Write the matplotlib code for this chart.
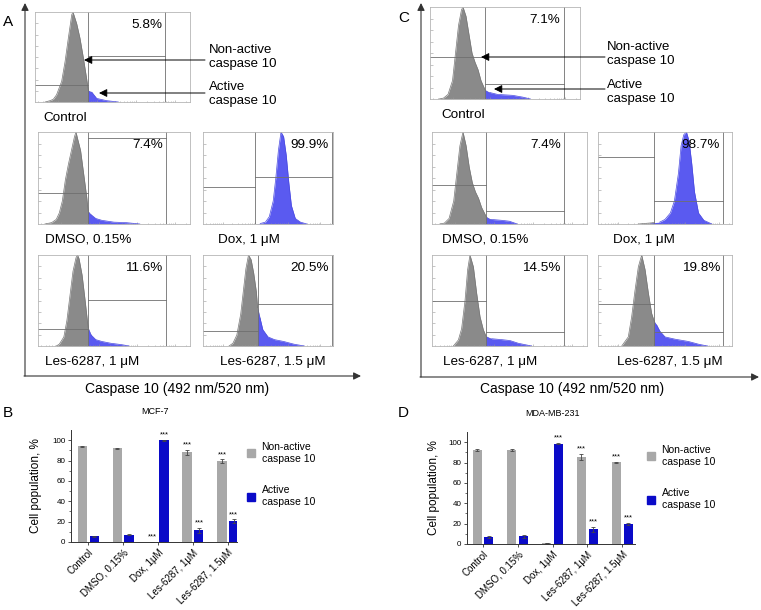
import numpy as np
import matplotlib.pyplot as plt
from matplotlib.patches import Patch

plt.rcParams['font.family'] = ['Liberation Sans', 'DejaVu Sans']

W, H = 761, 610

# ---- flow cytometry histograms (x: channel position 0-100, y: % of peak) ----
a_ctrl_x = [6.5, 9.7, 11.8, 13.9, 17.2, 19.4, 21.5, 23.7, 24.5, 26.9, 29, 31.2, 33.3, 34.4, 36.6, 39.8, 46.2, 53.8]
a_ctrl_y = [0, 1.5, 3, 8, 23, 45, 71, 97, 100, 87, 71, 49, 26, 13, 11, 4, 1.5, 0]
a_dmso_x = [4.5, 9, 12, 14, 16, 18, 20, 22, 24, 25, 26, 28, 30, 32, 33, 35, 38, 42, 50, 58, 67]
a_dmso_y = [0, 1.5, 5, 12, 25, 48, 65, 80, 95, 100, 93, 80, 55, 30, 14, 10, 6, 4, 2, 1.5, 0]
a_dox_x = [40, 44, 48, 51, 54, 56, 58, 60, 62, 64, 66, 68, 71, 75, 80]
a_dox_y = [0, 0.5, 2, 8, 25, 50, 80, 100, 95, 75, 45, 20, 6, 2, 0]
a_les1_x = [12, 14, 17, 19, 21, 23, 25, 26, 27, 29, 31, 33, 35, 38, 42, 48, 55, 60]
a_les1_y = [0, 2, 10, 28, 55, 82, 97, 100, 96, 78, 50, 20, 12, 7, 5, 3, 1.5, 0]
a_les15_x = [20, 23, 26, 29, 31, 33, 35, 37, 39, 41, 42, 44, 46, 50, 55, 62, 70, 78]
a_les15_y = [0, 3, 12, 35, 60, 85, 100, 95, 80, 60, 42, 30, 18, 10, 7, 5, 2, 0]

c_ctrl_x = [6, 9, 12, 15, 17, 19, 21, 22, 24, 26, 28, 30, 32, 34, 36.7, 40, 45, 55, 62, 67]
c_ctrl_y = [0, 1, 5, 20, 50, 80, 97, 100, 90, 70, 50, 40, 32, 20, 10, 7, 5, 4, 2, 0]
c_dmso_x = [5, 8, 11, 14, 16, 18, 20, 22, 24, 26, 28, 30, 32, 35, 38, 45, 50, 55]
c_dmso_y = [0, 1, 6, 25, 55, 85, 100, 85, 62, 45, 35, 28, 18, 8, 5, 4, 3, 0]
c_dox_x = [30, 38, 42, 46, 50, 54, 57, 60, 62, 64, 66, 68, 70, 72, 75, 79, 85]
c_dox_y = [0, 1, 1.5, 2, 5, 12, 25, 55, 85, 97, 100, 90, 65, 35, 12, 4, 0]
c_les1_x = [13.8, 17, 19.1, 21.3, 23, 24.5, 26.7, 28.8, 31, 33.1, 34.8, 38.5, 45, 50.3, 55.7, 64.3]
c_les1_y = [0, 6.6, 19, 50, 84, 100, 87, 58, 32, 18, 11, 8, 7, 6, 3, 0]
c_les15_x = [17.7, 22.6, 25.1, 27.6, 30.1, 32.6, 35.1, 37.6, 40, 42, 43.8, 46.3, 50, 57.5, 67.4, 75, 80, 82]
c_les15_y = [0, 10, 32, 61, 87, 100, 84, 58, 36, 27, 23, 16, 10, 7.5, 5, 2, 0.5, 0]

# ---- bar chart data (% of cell population) ----
cats = ['Control', 'DMSO, 0.15%', 'Dox, 1μM', 'Les-6287, 1μM', 'Les-6287, 1.5μM']
mcf7_nonactive = [94.0, 92.0, 0.1, 88.0, 79.5]
mcf7_nonactive_err = [0.6, 0.5, 0.0, 2.8, 1.6]
mcf7_active = [5.6, 7.2, 99.8, 11.6, 20.3]
mcf7_active_err = [0.6, 0.5, 0.2, 2.5, 1.8]
mda_nonactive = [92.5, 92.3, 1.0, 85.2, 80.1]
mda_nonactive_err = [1.2, 1.3, 0.3, 3.0, 0.8]
mda_active = [7.0, 7.5, 98.6, 14.5, 19.8]
mda_active_err = [1.0, 1.5, 0.3, 2.5, 0.8]
mcf7_stars_non = [False, False, True, True, True]
mcf7_stars_act = [False, False, True, True, True]
mda_stars_non = [False, False, False, True, True]
mda_stars_act = [False, False, True, True, True]

HIST_GRAY = '#8a8a8a'
HIST_BLUE = '#5a5af0'
GATE = '#6f6f6f'
BAR_GRAY = '#a8a8a8'
BAR_BLUE = '#0a0ac8'

fig = plt.figure(figsize=(W / 100, H / 100), dpi=100)


def px_axes(x0, y0, x1, y1):
    return fig.add_axes([x0 / W, 1 - y1 / H, (x1 - x0) / W, (y1 - y0) / H])


over = fig.add_axes([0, 0, 1, 1], zorder=5)
over.set_xlim(0, W)
over.set_ylim(H, 0)
over.axis('off')
over.patch.set_alpha(0)


def draw_hist(box, hx, hy, gate, vline, left_h, right_h, pct, label, label_dx):
    ax = px_axes(*box)
    hx = np.array(hx, dtype=float)
    hy = np.array(hy, dtype=float)
    ax.fill_between(hx, hy, where=hx <= gate, color=HIST_GRAY, lw=0, interpolate=True)
    ax.fill_between(hx, hy, where=hx >= gate, color=HIST_BLUE, lw=0, interpolate=True)
    m = hx <= gate
    ax.plot(hx[m], hy[m], color='#777777', lw=0.5)
    ax.plot(hx[~m], hy[~m], color='#4a4ae0', lw=0.5)
    ax.axvline(gate, color=GATE, lw=0.6)
    ax.axvline(vline, color=GATE, lw=0.6)
    ax.plot([0, gate], [left_h, left_h], color=GATE, lw=0.6)
    ax.plot([gate, vline], [right_h, right_h], color=GATE, lw=0.6)
    ax.text(vline - 2, 86, pct, ha='right', va='center', fontsize=9.7)
    ax.set_xlim(0, 100)
    ax.set_ylim(0, 100)
    ax.set_xticks([15, 40, 65, 90])
    minors = [d + 25 * np.log10(k) for d in (-10, 15, 40, 65, 90) for k in range(2, 10)]
    ax.set_xticks([v for v in minors if 1 < v < 99], minor=True)
    ax.set_yticks(np.arange(12.5, 100, 12.5))
    ax.tick_params(which='both', direction='in', length=1.8, width=0.4, colors='#999999',
                   labelleft=False, labelbottom=False)
    ax.tick_params(which='minor', length=1.0)
    for s in ax.spines.values():
        s.set_color('#b5b5b5')
        s.set_linewidth(0.6)
    over.text(box[0] + label_dx, box[3] + 16, label, ha='left', va='center', fontsize=9.7)


# panel A
draw_hist((35, 12, 190, 102), a_ctrl_x, a_ctrl_y, 34.4, 84, 19, 51, '5.8%', 'Control', 8)
draw_hist((38, 132, 190, 224), a_dmso_x, a_dmso_y, 33, 84, 34, 93, '7.4%', 'DMSO, 0.15%', 7)
draw_hist((203, 132, 333, 224), a_dox_x, a_dox_y, 40, 99, 40, 51, '99.9%', 'Dox, 1 μM', 15)
draw_hist((38, 255, 190, 346), a_les1_x, a_les1_y, 33, 84, 19, 51, '11.6%', 'Les-6287, 1 μM', 7)
draw_hist((203, 255, 333, 346), a_les15_x, a_les15_y, 42, 99, 16, 46, '20.5%', 'Les-6287, 1.5 μM', 17)

# panel C
draw_hist((430, 7, 580, 99), c_ctrl_x, c_ctrl_y, 36.7, 89, 46, 16, '7.1%', 'Control', 11)
draw_hist((432, 132, 587, 224), c_dmso_x, c_dmso_y, 35, 85, 42, 14, '7.4%', 'DMSO, 0.15%', 10)
draw_hist((598, 132, 732, 224), c_dox_x, c_dox_y, 42, 93, 73, 25, '98.7%', 'Dox, 1 μM', 15)
draw_hist((432, 255, 587, 346), c_les1_x, c_les1_y, 34.8, 85, 49, 15, '14.5%', 'Les-6287, 1 μM', 11)
draw_hist((598, 255, 732, 346), c_les15_x, c_les15_y, 42, 93, 46, 15, '19.8%', 'Les-6287, 1.5 μM', 19)

# axis arrows of the histogram grids
ax_kw = dict(arrowstyle='-|>', color='#333333', lw=0.8, mutation_scale=11, shrinkA=0, shrinkB=0)
over.annotate('', xy=(25, 3), xytext=(25, 376), arrowprops=ax_kw)
over.annotate('', xy=(361, 376), xytext=(24, 376), arrowprops=ax_kw)
over.annotate('', xy=(421, 3), xytext=(421, 377), arrowprops=ax_kw)
over.annotate('', xy=(759, 377), xytext=(420, 377), arrowprops=ax_kw)
over.text(177, 389, 'Caspase 10 (492 nm/520 nm)', ha='center', va='center', fontsize=10)
over.text(572, 389, 'Caspase 10 (492 nm/520 nm)', ha='center', va='center', fontsize=10)

# pointer arrows
pk = dict(arrowstyle='-|>', color='black', lw=0.7, mutation_scale=12, shrinkA=0, shrinkB=0)
over.annotate('', xy=(84, 60), xytext=(205, 60), arrowprops=pk)
over.annotate('', xy=(99, 93), xytext=(205, 93), arrowprops=pk)
over.text(209, 57, 'Non-active\ncaspase 10', ha='left', va='center', fontsize=9.5, linespacing=1.2)
over.text(209, 94, 'Active\ncaspase 10', ha='left', va='center', fontsize=9.5, linespacing=1.2)
over.annotate('', xy=(481, 57), xytext=(605, 57), arrowprops=pk)
over.annotate('', xy=(494, 89), xytext=(605, 89), arrowprops=pk)
over.text(607, 54, 'Non-active\ncaspase 10', ha='left', va='center', fontsize=9.5, linespacing=1.2)
over.text(607, 92, 'Active\ncaspase 10', ha='left', va='center', fontsize=9.5, linespacing=1.2)

# panel letters
for lx, ly, t in [(8, 22, 'A'), (404, 18, 'C'), (8, 413, 'B'), (403, 413, 'D')]:
    over.text(lx, ly, t, ha='center', va='center', fontsize=11)


def draw_bars(box, xlim, non, non_err, act, act_err, st_non, st_act, title, title_xy,
              legend_xy, ylabel_dx):
    ax = px_axes(*box)
    x = np.arange(len(cats))
    ekw = dict(lw=0.6, capsize=1.6, capthick=0.6, ecolor='#444444')
    ax.bar(x - 0.17, non, 0.26, yerr=non_err, color=BAR_GRAY, error_kw=ekw)
    ax.bar(x + 0.17, act, 0.26, yerr=act_err, color=BAR_BLUE, error_kw=ekw)
    for i in range(len(cats)):
        if st_non[i]:
            ax.text(x[i] - 0.17, non[i] + non_err[i] + 1.5, '***', ha='center', va='bottom', fontsize=5.5)
        if st_act[i]:
            ax.text(x[i] + 0.17, act[i] + act_err[i] + 1.5, '***', ha='center', va='bottom', fontsize=5.5)
    ax.set_xlim(*xlim)
    ax.set_ylim(0, 110)
    ax.set_yticks(range(0, 101, 20))
    ax.set_yticks(range(10, 101, 20), minor=True)
    ax.set_xticks(x)
    ax.set_xticklabels(cats, rotation=45, ha='right', rotation_mode='anchor', fontsize=7)
    ax.tick_params(axis='y', labelsize=5.8, length=2.5, width=0.6, pad=1.5, colors='#333333')
    ax.tick_params(axis='y', which='minor', length=1.5, width=0.5, colors='#333333')
    ax.tick_params(axis='x', length=2.5, width=0.6, pad=1.5, colors='#333333')
    ax.tick_params(axis='x', labelcolor='black')
    ax.tick_params(axis='y', labelcolor='black')
    for s in ('top', 'right'):
        ax.spines[s].set_visible(False)
    for s in ('left', 'bottom'):
        ax.spines[s].set_color('#333333')
        ax.spines[s].set_linewidth(0.7)
    ax.set_ylabel('Cell population, %', fontsize=8.5)
    ax.yaxis.set_label_coords(-ylabel_dx / (box[2] - box[0]), 0.5)
    over.text(title_xy[0], title_xy[1], title, ha='center', va='center', fontsize=6.5)
    handles = [Patch(color=BAR_GRAY), Patch(color=BAR_BLUE)]
    ax.legend(handles, ['Non-active\ncaspase 10', 'Active\ncaspase 10'], loc='upper left',
              bbox_to_anchor=(legend_xy[0] / W, 1 - legend_xy[1] / H), bbox_transform=fig.transFigure,
              frameon=False, fontsize=7.5, handlelength=0.8, handleheight=0.8, handletextpad=0.6,
              labelspacing=2.1, borderpad=0, borderaxespad=0)


draw_bars((71, 430, 237, 542), (-0.49, 4.26), mcf7_nonactive, mcf7_nonactive_err,
          mcf7_active, mcf7_active_err, mcf7_stars_non, mcf7_stars_act,
          'MCF-7', (155, 412), (247, 442), 29)
draw_bars((467, 432, 635, 544), (-0.46, 4.37), mda_nonactive, mda_nonactive_err,
          mda_active, mda_active_err, mda_stars_non, mda_stars_act,
          'MDA-MB-231', (552, 413), (647, 445), 27)

fig.savefig('out.png', dpi=100)
